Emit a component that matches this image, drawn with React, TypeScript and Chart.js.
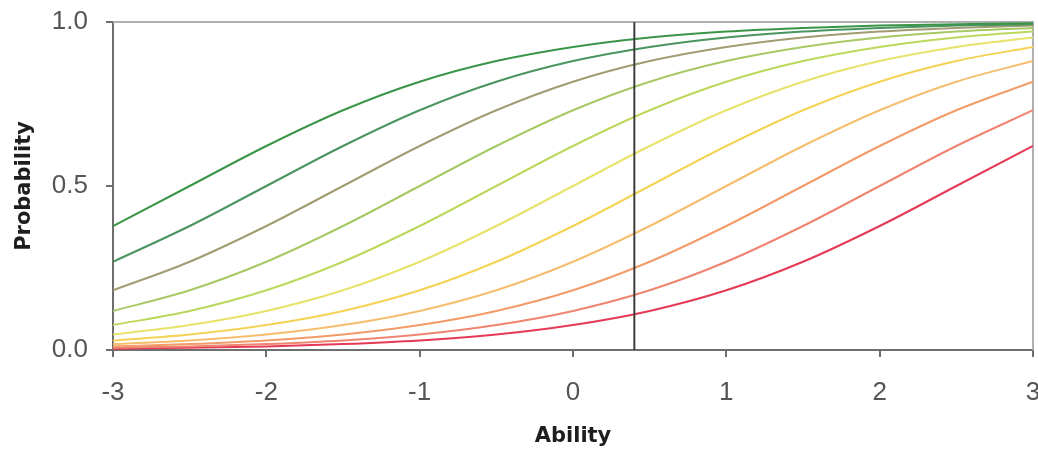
import { useEffect, useRef } from 'react';
import { Chart, registerables } from 'chart.js';

Chart.register(...registerables);

// Ability grid (x axis values read at 0.5 steps)
const abilityValues = [-3, -2.5, -2, -1.5, -1, -0.5, 0, 0.5, 1, 1.5, 2, 2.5, 3];

// Probability curves, easiest item (green) to hardest item (red)
const item01 = [0.378, 0.5, 0.622, 0.731, 0.818, 0.881, 0.924, 0.953, 0.971, 0.982, 0.989, 0.993, 0.996];
const item02 = [0.269, 0.378, 0.5, 0.622, 0.731, 0.818, 0.881, 0.924, 0.953, 0.971, 0.982, 0.989, 0.993];
const item03 = [0.182, 0.269, 0.378, 0.5, 0.622, 0.731, 0.818, 0.881, 0.924, 0.953, 0.971, 0.982, 0.989];
const item04 = [0.119, 0.182, 0.269, 0.378, 0.5, 0.622, 0.731, 0.818, 0.881, 0.924, 0.953, 0.971, 0.982];
const item05 = [0.076, 0.119, 0.182, 0.269, 0.378, 0.5, 0.622, 0.731, 0.818, 0.881, 0.924, 0.953, 0.971];
const item06 = [0.047, 0.076, 0.119, 0.182, 0.269, 0.378, 0.5, 0.622, 0.731, 0.818, 0.881, 0.924, 0.953];
const item07 = [0.029, 0.047, 0.076, 0.119, 0.182, 0.269, 0.378, 0.5, 0.622, 0.731, 0.818, 0.881, 0.924];
const item08 = [0.018, 0.029, 0.047, 0.076, 0.119, 0.182, 0.269, 0.378, 0.5, 0.622, 0.731, 0.818, 0.881];
const item09 = [0.011, 0.018, 0.029, 0.047, 0.076, 0.119, 0.182, 0.269, 0.378, 0.5, 0.622, 0.731, 0.818];
const item10 = [0.007, 0.011, 0.018, 0.029, 0.047, 0.076, 0.119, 0.182, 0.269, 0.378, 0.5, 0.622, 0.731];
const item11 = [0.004, 0.007, 0.011, 0.018, 0.029, 0.047, 0.076, 0.119, 0.182, 0.269, 0.378, 0.5, 0.622];

const itemSeries = [item01, item02, item03, item04, item05, item06, item07, item08, item09, item10, item11];
const itemColors = [
  '#3a9548', '#4a9460', '#a19c72', '#a6c964', '#bcd85c', '#e6e26a',
  '#f4d354', '#f5bd6e', '#f29b68', '#ef8470', '#e53a56',
];

// Vertical ability marker
const markerAbility = 0.4;
const markerRange = [0, 1];

const yTickLabels = ['0.0', '0.5', '1.0'];

const framePlugin = {
  id: 'frameTopRight',
  beforeDatasetsDraw(chart: any) {
    const { ctx, chartArea } = chart;
    const { left, right, top, bottom } = chartArea;
    ctx.save();
    ctx.strokeStyle = '#b0b0b0';
    ctx.lineWidth = 2;
    ctx.beginPath();
    ctx.moveTo(left, top);
    ctx.lineTo(right, top);
    ctx.lineTo(right, bottom);
    ctx.stroke();
    ctx.restore();
  },
};

export default function App() {
  const canvasRef = useRef<HTMLCanvasElement | null>(null);

  useEffect(() => {
    if (!canvasRef.current) return;
    const tickFont = { family: 'Liberation Sans', size: 26 };
    const titleFont = { family: 'DejaVu Sans', size: 21, weight: 'bold' as const };

    const datasets: any[] = [
      {
        label: 'marker',
        data: markerRange.map((y) => ({ x: markerAbility, y })),
        borderColor: '#3c3c3c',
        borderWidth: 2,
        pointRadius: 0,
        order: 0,
      },
      ...itemSeries.map((series, i) => ({
        label: `Item ${i + 1}`,
        data: abilityValues.map((x, j) => ({ x, y: series[j] })),
        borderColor: itemColors[i],
        borderWidth: 2,
        pointRadius: 0,
        cubicInterpolationMode: 'monotone',
        order: 1,
      })),
    ];

    const chart = new Chart(canvasRef.current, {
      type: 'line',
      data: { datasets },
      plugins: [framePlugin],
      options: {
        responsive: false,
        animation: false,
        layout: { padding: { left: 0, right: 5, top: 22, bottom: 0 } },
        plugins: { legend: { display: false }, tooltip: { enabled: false } },
        scales: {
          x: {
            type: 'linear',
            min: -3,
            max: 3,
            ticks: {
              stepSize: 1,
              font: tickFont,
              color: '#555555',
              padding: 20,
              maxRotation: 0,
              callback: (v: any) => String(v),
            },
            grid: { drawOnChartArea: false, drawTicks: true, tickLength: 7, color: '#6e6e6e', lineWidth: 2 },
            border: { display: true, color: '#6e6e6e', width: 2 },
            title: {
              display: true,
              text: 'Ability',
              font: titleFont,
              color: '#1e1e1e',
              padding: { top: 0, bottom: 0 },
            },
            afterFit: (s: any) => {
              s.height = 99;
              s.paddingLeft = 0;
              s.paddingRight = 0;
            },
          },
          y: {
            type: 'linear',
            min: 0,
            max: 1,
            ticks: {
              stepSize: 0.5,
              font: tickFont,
              color: '#555555',
              padding: 18,
              callback: (v: any) => yTickLabels[Math.round(Number(v) * 2)],
            },
            grid: { drawOnChartArea: false, drawTicks: true, tickLength: 7, color: '#6e6e6e', lineWidth: 2 },
            border: { display: true, color: '#6e6e6e', width: 2 },
            title: {
              display: true,
              text: 'Probability',
              font: titleFont,
              color: '#1e1e1e',
              padding: { top: 12, bottom: 0 },
            },
            afterFit: (s: any) => {
              s.width = 113;
              s.paddingTop = 0;
              s.paddingBottom = 0;
            },
          },
        },
      } as any,
    });
    return () => chart.destroy();
  }, []);

  return (
    <div style={{ position: 'fixed', left: 0, top: 0, width: 1038, height: 449, background: '#fff' }}>
      <canvas ref={canvasRef} width={1038} height={449} />
    </div>
  );
}
